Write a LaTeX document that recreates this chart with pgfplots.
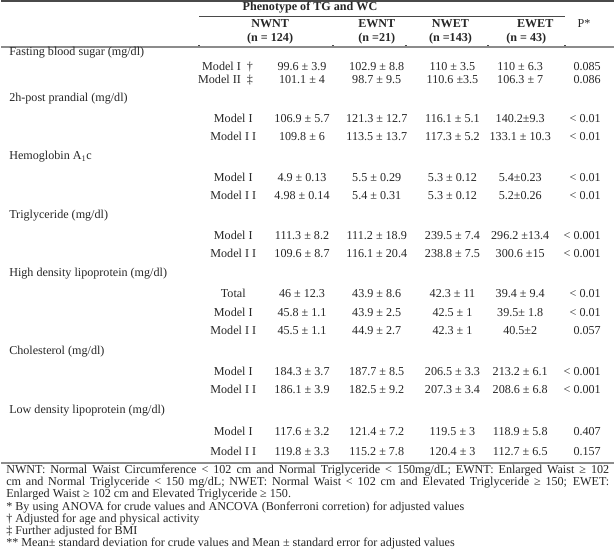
\documentclass[border=0pt]{standalone}
\usepackage{fontspec}
\setmainfont{Liberation Serif}
\usepackage{pgfplots}
\pgfplotsset{compat=1.18}
\definecolor{txt}{HTML}{262626}
\definecolor{rulec}{HTML}{8C8C8C}
\definecolor{topc}{HTML}{4A4A4A}
\newcommand\fs{\fontsize{12.2}{14}\selectfont}
\tikzset{every node/.append style={font=\fs, text=txt, inner sep=0pt}}
\newcommand\grp[2]{\node[anchor=mid west] at (axis cs:8,#1) {#2};}
\newcommand\vals[6]{%
  \node[anchor=mid] at (axis cs:302,#1) {#2};
  \node[anchor=mid] at (axis cs:377,#1) {#3};
  \node[anchor=mid] at (axis cs:453,#1) {#4};
  \node[anchor=mid] at (axis cs:521,#1) {#5};
  \node[anchor=mid east] at (axis cs:602,#1) {#6};}
\newcommand\mrow[7]{%
  \node[anchor=mid] at (axis cs:233,#1) {#2};
  \vals{#1}{#3}{#4}{#5}{#6}{#7}}
\newcommand\frow[7]{%
  \node[anchor=mid east] at (axis cs:253,#1) {#2};
  \vals{#1}{#3}{#4}{#5}{#6}{#7}}
\newcommand\fn[2]{\node[anchor=mid west] at (axis cs:5,#1) {#2};}
\newcommand\tick[1]{\draw[topc, line width=0.9pt] (axis cs:#1-1,45.2) -- (axis cs:#1+1,45.2);}
\begin{document}
\begin{tikzpicture}
\begin{axis}[scale only axis, width=615bp, height=560bp,
  xmin=0, xmax=615, ymin=0, ymax=560, y dir=reverse,
  hide axis, clip=false]
\path (rel axis cs:0,0) rectangle (rel axis cs:1,1);
% rules
\draw[topc, line width=1.6pt] (axis cs:0,1) -- (axis cs:615,1);
\draw[topc, line width=0.8pt] (axis cs:199,16) -- (axis cs:566,16);
\draw[rulec, line width=2.2pt] (axis cs:0,47) -- (axis cs:615,47);
\tick{199}\tick{333}\tick{406}\tick{489}\tick{566}
\draw[rulec, line width=2pt] (axis cs:0,465) -- (axis cs:615,465);
% header
\node[anchor=mid, font=\fs\bfseries] at (axis cs:310,8) {Phenotype of TG and WC};
\node[anchor=mid, font=\fs\bfseries] at (axis cs:270,25) {NWNT};
\node[anchor=mid, font=\fs\bfseries] at (axis cs:270,39) {(n = 124)};
\node[anchor=mid, font=\fs\bfseries] at (axis cs:377,25) {EWNT};
\node[anchor=mid, font=\fs\bfseries] at (axis cs:377,39) {(n =21)};
\node[anchor=mid, font=\fs\bfseries] at (axis cs:451,25) {NWET};
\node[anchor=mid, font=\fs\bfseries] at (axis cs:451,39) {(n =143)};
\node[anchor=mid, font=\fs\bfseries] at (axis cs:536,25) {EWET};
\node[anchor=mid, font=\fs\bfseries] at (axis cs:527,39) {(n = 43)};
\node[anchor=mid] at (axis cs:585,25) {P*};
% body
\grp{53}{Fasting blood sugar (mg/dl)}
\frow{68}{Model I \ \textdagger}{99.6 ± 3.9}{102.9 ± 8.8}{110 ± 3.5}{110 ± 6.3}{0.085}
\frow{82}{Model II \ \textdaggerdbl}{101.1 ± 4}{98.7 ± 9.5}{110.6 ±3.5}{106.3 ± 7}{0.086}
\grp{100}{2h-post prandial (mg/dl)}
\mrow{121}{Model I}{106.9 ± 5.7}{121.3 ± 12.7}{116.1 ± 5.1}{140.2±9.3}{< 0.01}
\mrow{139}{Model I I}{109.8 ± 6}{113.5 ± 13.7}{117.3 ± 5.2}{133.1 ± 10.3}{< 0.01}
\grp{158}{Hemoglobin A\textsubscript{1}c}
\mrow{180}{Model I}{4.9 ± 0.13}{5.5 ± 0.29}{5.3 ± 0.12}{5.4±0.23}{< 0.01}
\mrow{198}{Model I I}{4.98 ± 0.14}{5.4 ± 0.31}{5.3 ± 0.12}{5.2±0.26}{< 0.01}
\grp{217}{Triglyceride (mg/dl)}
\mrow{238}{Model I}{111.3 ± 8.2}{111.2 ± 18.9}{239.5 ± 7.4}{296.2 ±13.4}{< 0.001}
\mrow{256}{Model I I}{109.6 ± 8.7}{116.1 ± 20.4}{238.8 ± 7.5}{300.6 ±15}{< 0.001}
\grp{275}{High density lipoprotein (mg/dl)}
\mrow{296}{Total}{46 ± 12.3}{43.9 ± 8.6}{42.3 ± 11}{39.4 ± 9.4}{< 0.01}
\mrow{315}{Model I}{45.8 ± 1.1}{43.9 ± 2.5}{42.5 ± 1}{39.5± 1.8}{< 0.01}
\mrow{333}{Model I I}{45.5 ± 1.1}{44.9 ± 2.7}{42.3 ± 1}{40.5±2}{0.057}
\grp{353}{Cholesterol (mg/dl)}
\mrow{375}{Model I}{184.3 ± 3.7}{187.7 ± 8.5}{206.5 ± 3.3}{213.2 ± 6.1}{< 0.001}
\mrow{393}{Model I I}{186.1 ± 3.9}{182.5 ± 9.2}{207.3 ± 3.4}{208.6 ± 6.8}{< 0.001}
\grp{413}{Low density lipoprotein (mg/dl)}
\mrow{435}{Model I}{117.6 ± 3.2}{121.4 ± 7.2}{119.5 ± 3}{118.9 ± 5.8}{0.407}
\mrow{455}{Model I I}{119.8 ± 3.3}{115.2 ± 7.8}{120.4 ± 3}{112.7 ± 6.5}{0.157}
% footnotes
\fn{473}{\makebox[605bp][s]{NWNT: Normal Waist Circumference < 102 cm and Normal Triglyceride < 150mg/dL; EWNT: Enlarged Waist ≥ 102}}
\fn{485.2}{\makebox[605bp][s]{cm and Normal Triglyceride < 150 mg/dL; NWET: Normal Waist < 102 cm and Elevated Triglyceride ≥ 150; EWET:}}
\fn{497.4}{Enlarged Waist ≥ 102 cm and Elevated Triglyceride ≥ 150.}
\fn{509.6}{* By using ANOVA for crude values and ANCOVA (Bonferroni corretion) for adjusted values}
\fn{521.8}{\textdagger\ Adjusted for age and physical activity}
\fn{534}{\textdaggerdbl\ Further adjusted for BMI}
\fn{546.2}{** Mean± standard deviation for crude values and Mean ± standard error for adjusted values}
\end{axis}
\end{tikzpicture}
\end{document}
